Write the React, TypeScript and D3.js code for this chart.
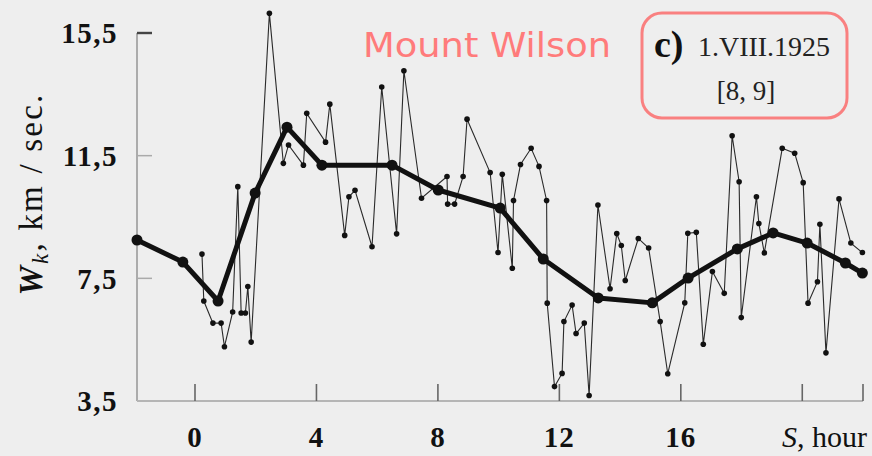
import React from "react";
import * as d3 from "d3";

// Hourly-ish observations (thin line)
const thinHours = [
  0.23, 0.29, 0.59, 0.86, 0.97, 1.24, 1.41, 1.52, 1.66, 1.74, 1.85, 2.45, 2.91, 3.08, 3.57, 3.68,
  4.3, 4.44, 4.93, 5.07, 5.27, 5.83, 6.15, 6.64, 6.88, 7.46, 8.3, 8.32, 8.55, 8.83, 8.96, 9.72,
  9.98, 10.12, 10.45, 10.49, 10.72, 11.07, 11.33, 11.58, 11.6, 11.84, 12.09, 12.15, 12.42, 12.55,
  12.82, 12.98, 13.27, 13.67, 13.89, 14.04, 14.17, 14.6, 14.94, 15.32, 15.57, 16.13, 16.23, 16.51,
  16.74, 17.04, 17.43, 17.69, 17.92, 17.99, 18.49, 18.57, 18.75, 19.34, 19.75, 20.03, 20.19, 20.5,
  20.58, 20.78, 21.21, 21.6, 21.98,
];
const thinValues = [
  8.29, 6.76, 6.04, 6.04, 5.27, 6.4, 10.49, 6.37, 6.37, 7.23, 5.42, 16.14, 11.25, 11.85, 11.19, 12.88,
  11.94, 13.18, 8.9, 10.16, 10.37, 8.53, 13.74, 8.95, 14.27, 10.11, 10.82, 9.92, 9.92, 10.82, 12.69, 10.95,
  8.34, 10.89, 7.83, 10.04, 11.21, 11.74, 11.15, 10.04, 6.69, 3.97, 4.4, 6.09, 6.63, 5.7,
  6.04, 3.68, 9.89, 7.16, 8.96, 8.57, 7.43, 8.8, 8.49, 6.09, 4.39, 6.7, 8.97, 9.0,
  5.35, 7.72, 7.01, 12.15, 10.65, 6.22, 10.16, 9.29, 8.33, 11.74, 11.58, 10.62, 6.69, 7.39,
  9.26, 5.07, 10.09, 8.65, 8.34,
];

// Smoothed series (thick line)
const meanHours = [-1.91, -0.4, 0.76, 1.98, 3.03, 4.18, 6.49, 8.01, 10.05, 11.47, 13.28, 15.06, 16.24, 17.86, 19.04, 20.16, 21.42, 21.98];
const meanValues = [8.75, 8.03, 6.76, 10.28, 12.43, 11.19, 11.19, 10.38, 9.79, 8.13, 6.86, 6.7, 7.51, 8.46, 8.98, 8.65, 8.0, 7.67];

const yTicks = [3.5, 7.5, 11.5, 15.5];
const yTickLabels = ["3,5", "7,5", "11,5", "15,5"];
const xTicks = [0, 4, 8, 12, 16, 20, 22];
const xTickLabels = ["0", "4", "8", "12", "16", "", ""];

const W = 872;
const H = 456;

export default function App() {
  const x = d3.scaleLinear().domain([-1.91, 22]).range([137, 863]);
  const y = d3.scaleLinear().domain([3.5, 15.5]).range([401, 33]);

  const thinPts = thinHours.map((h, i) => [h, thinValues[i]] as [number, number]);
  const meanPts = meanHours.map((h, i) => [h, meanValues[i]] as [number, number]);
  const line = d3
    .line<[number, number]>()
    .x((d) => x(d[0]))
    .y((d) => y(d[1]));

  const serif = "'Liberation Serif', 'DejaVu Serif', serif";

  return (
    <svg
      width={W}
      height={H}
      style={{ position: "absolute", left: 0, top: 0, display: "block" }}
    >
      <rect x={0} y={0} width={W} height={H} fill="#eeeeee" />

      {/* axes */}
      <line x1={x(-1.91)} x2={x(-1.91)} y1={y(15.5)} y2={y(3.5)} stroke="#9a9a9a" strokeWidth={1.6} />
      <line x1={x(-1.91)} x2={x(22)} y1={y(3.5)} y2={y(3.5)} stroke="#b5b5b5" strokeWidth={2} />
      {yTicks.map((t, i) => (
        <g key={"yt" + i}>
          {i > 0 && (
            <line
              x1={x(-1.91)}
              x2={x(-1.91) + 15}
              y1={y(t)}
              y2={y(t)}
              stroke={i === 3 ? "#444" : "#aaa"}
              strokeWidth={i === 3 ? 2.4 : 1.5}
            />
          )}
          <text
            x={118}
            y={y(t)}
            dy="0.36em"
            textAnchor="end"
            fontFamily={serif}
            fontWeight="bold"
            fontSize={29}
            letterSpacing={1.5}
            fill="#111"
          >
            {yTickLabels[i]}
          </text>
        </g>
      ))}
      {xTicks.map((t, i) => (
        <g key={"xt" + i}>
          <line x1={x(t)} x2={x(t)} y1={y(3.5)} y2={y(3.5) - 17} stroke="#666" strokeWidth={1.6} />
          {xTickLabels[i] && (
            <text
              x={x(t)}
              y={447}
              textAnchor="middle"
              fontFamily={serif}
              fontWeight="bold"
              fontSize={29}
              letterSpacing={1}
              fill="#111"
            >
              {xTickLabels[i]}
            </text>
          )}
        </g>
      ))}

      {/* axis titles */}
      <text
        transform={`translate(42,194) rotate(-90)`}
        textAnchor="middle"
        fontFamily={serif}
        fontSize={33}
        letterSpacing={2.2}
        fill="#111"
      >
        <tspan fontStyle="italic" fontWeight="bold">W</tspan>
        <tspan fontStyle="italic" fontSize={23} dy={6}>k</tspan>
        <tspan dy={-6}>,  km / sec.</tspan>
      </text>
      <text x={867} y={447} textAnchor="end" fontFamily={serif} fontSize={30} fill="#111">
        <tspan fontStyle="italic">S</tspan>
        <tspan>, hour</tspan>
      </text>

      {/* thin series */}
      <path d={line(thinPts) || ""} fill="none" stroke="#2a2a2a" strokeWidth={1.1} />
      {thinPts.map((p, i) => (
        <circle key={"tp" + i} cx={x(p[0])} cy={y(p[1])} r={2.8} fill="#111" />
      ))}

      {/* thick series */}
      <path d={line(meanPts) || ""} fill="none" stroke="#111" strokeWidth={5} strokeLinejoin="round" />
      {meanPts.map((p, i) => (
        <circle key={"mp" + i} cx={x(p[0])} cy={y(p[1])} r={5.5} fill="#111" />
      ))}

      {/* title */}
      <text
        x={363}
        y={57}
        fontFamily="'DejaVu Sans', sans-serif"
        fontSize={33}
        textLength={248}
        lengthAdjust="spacingAndGlyphs"
        fill="#ff7b7b"
      >
        Mount Wilson
      </text>

      {/* annotation box */}
      <rect x={642} y={13} width={205} height={105} rx={20} ry={20} fill="none" stroke="#f98080" strokeWidth={3} />
      <text x={654} y={57} fontFamily={serif} fontWeight="bold" fontSize={38} fill="#111">
        c)
      </text>
      <text x={698} y={56} fontFamily={serif} fontSize={27} fill="#222" textLength={132} lengthAdjust="spacingAndGlyphs">
        1.VIII.1925
      </text>
      <text x={746} y={100} textAnchor="middle" fontFamily={serif} fontSize={27} fill="#222">
        [8, 9]
      </text>
    </svg>
  );
}
